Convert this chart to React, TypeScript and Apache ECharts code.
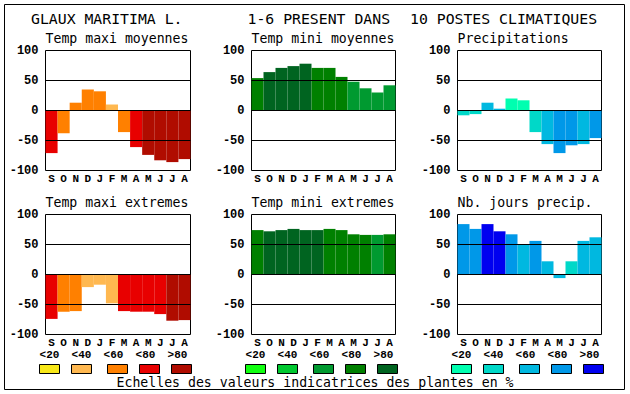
import React, { useEffect, useRef } from 'react';
import * as echarts from 'echarts';

const months = ['S', 'O', 'N', 'D', 'J', 'F', 'M', 'A', 'M', 'J', 'J', 'A'];
const legendLabels = ['<20', '<40', '<60', '<80', '>80'];
const headerParts = ['GLAUX MARITIMA L.', '1-6 PRESENT DANS', '10 POSTES CLIMATIQUES'];
const footerText = 'Echelles des valeurs indicatrices des plantes en %';
const panelTitles = [
  'Temp maxi moyennes',
  'Temp mini moyennes',
  'Precipitations',
  'Temp maxi extremes',
  'Temp mini extremes',
  'Nb. jours precip.',
];

// values (%) and class index (0:<20 .. 4:>80) per month
const tempMaxiMoyennes = [-71, -38, 13, 35, 32, 10, -36, -61, -74, -83, -86, -81];
const tempMaxiMoyennesClass = [3, 2, 2, 2, 2, 1, 2, 3, 4, 4, 4, 4];
const tempMiniMoyennes = [54, 64, 71, 74, 78, 71, 71, 56, 48, 37, 30, 42];
const tempMiniMoyennesClass = [3, 4, 4, 4, 4, 3, 3, 3, 2, 2, 2, 2];
const precipitations = [-8, -6, 13, 3, 20, 17, -36, -56, -71, -58, -56, -46];
const precipitationsClass = [1, 1, 2, 2, 0, 0, 1, 2, 3, 3, 2, 3];
const tempMaxiExtremes = [-74, -62, -61, -21, -17, -48, -61, -62, -62, -66, -77, -76];
const tempMaxiExtremesClass = [3, 2, 2, 1, 1, 1, 3, 3, 3, 3, 4, 4];
const tempMiniExtremes = [74, 72, 74, 76, 74, 74, 76, 74, 67, 66, 66, 67];
const tempMiniExtremesClass = [3, 4, 4, 4, 4, 4, 3, 3, 3, 3, 2, 3];
const nbJoursPrecip = [84, 76, 84, 72, 67, 50, 56, 22, -6, 22, 56, 62];
const nbJoursPrecipClass = [3, 3, 4, 4, 3, 2, 3, 2, 2, 1, 2, 2];

const redScale = ['#f8e818', '#ffb850', '#ff8000', '#e80000', '#b00c00'];
const greenScale = ['#10ff10', '#00c830', '#009a30', '#008000', '#006420'];
const blueScale = ['#00ffb0', '#00d8c8', '#00b8e0', '#0098e8', '#0000f0'];

const MONO = '"DejaVu Sans Mono", monospace';
const BOLD_MONO = '"Liberation Mono", "DejaVu Sans Mono", monospace';

export default function App() {
  const ref = useRef<HTMLDivElement>(null);

  useEffect(() => {
    if (!ref.current) return;
    const chart = echarts.init(ref.current, undefined, { renderer: 'svg' });

    const panels = [
      { values: tempMaxiMoyennes, classes: tempMaxiMoyennesClass, scale: redScale },
      { values: tempMiniMoyennes, classes: tempMiniMoyennesClass, scale: greenScale },
      { values: precipitations, classes: precipitationsClass, scale: blueScale },
      { values: tempMaxiExtremes, classes: tempMaxiExtremesClass, scale: redScale },
      { values: tempMiniExtremes, classes: tempMiniExtremesClass, scale: greenScale },
      { values: nbJoursPrecip, classes: nbJoursPrecipClass, scale: blueScale },
    ];
    const lefts = [45.5, 251.5, 457.5];
    const widths = [145, 144, 144];
    const tops = [50.5, 214.5];
    const plotH = 120;

    const grid = panels.map((_, i) => ({
      left: lefts[i % 3],
      top: tops[Math.floor(i / 3)],
      width: widths[i % 3],
      height: plotH,
      show: true,
      borderColor: '#000',
      borderWidth: 1,
      backgroundColor: '#fff',
      containLabel: false,
    }));

    const xAxis = panels.map((_, i) => ({
      type: 'category',
      gridIndex: i,
      data: months,
      axisLine: { show: false },
      axisTick: { show: false },
      splitLine: { show: false },
      axisLabel: {
        interval: 0,
        margin: 3,
        color: '#000',
        fontFamily: BOLD_MONO,
        fontWeight: 'bold',
        fontSize: 11,
        lineHeight: 11,
      },
    }));

    const yAxis = panels.map((_, i) => ({
      type: 'value',
      gridIndex: i,
      min: -100,
      max: 100,
      interval: 50,
      axisLine: { show: false },
      axisTick: { show: false },
      splitLine: { show: false },
      axisLabel: {
        margin: 7,
        color: '#000',
        fontFamily: BOLD_MONO,
        fontWeight: 'bold',
        fontSize: 12,
      },
    }));

    const series = panels.map((p, i) => ({
      type: 'bar',
      xAxisIndex: i,
      yAxisIndex: i,
      barCategoryGap: '0%',
      barGap: '0%',
      data: p.values.map((v, j) => ({ value: v, itemStyle: { color: p.scale[p.classes[j]] } })),
      markLine: {
        silent: true,
        symbol: ['none', 'none'],
        label: { show: false },
        lineStyle: { color: '#000', type: 'solid', width: 1 },
        emphasis: { disabled: true },
        data: [{ yAxis: 50 }, { yAxis: 0 }, { yAxis: -50 }],
      },
    }));

    const graphic: any[] = [];
    graphic.push({
      type: 'rect',
      shape: { x: 4.5, y: 4.5, width: 620, height: 385 },
      style: { fill: 'none', stroke: '#000', lineWidth: 1 },
      z: 0,
    });
    const headerX = [31, 247.5, 410];
    headerParts.forEach((t, k) => {
      graphic.push({
        type: 'text',
        x: headerX[k],
        y: 18.5,
        style: { text: t, font: `14.8px ${MONO}`, fill: '#000', textAlign: 'left', textVerticalAlign: 'middle' },
      });
    });
    const subY = [38.5, 202.5];
    panelTitles.forEach((t, i) => {
      graphic.push({
        type: 'text',
        x: lefts[i % 3],
        y: subY[Math.floor(i / 3)],
        style: { text: t, font: `13.2px ${MONO}`, fill: '#000', textAlign: 'left', textVerticalAlign: 'middle' },
      });
    });
    const boxOffsets = [0, 32, 68, 100, 132];
    const scales = [redScale, greenScale, blueScale];
    for (let c = 0; c < 3; c++) {
      const L = lefts[c];
      for (let k = 0; k < 5; k++) {
        graphic.push({
          type: 'text',
          x: L + 4 + 32 * k,
          y: 355,
          style: {
            text: legendLabels[k],
            font: `bold 11px ${BOLD_MONO}`,
            fill: '#000',
            textAlign: 'center',
            textVerticalAlign: 'middle',
          },
        });
        graphic.push({
          type: 'rect',
          shape: { x: Math.floor(L + 4 + boxOffsets[k] - 10) + 0.5, y: 364.5, width: 20, height: 9 },
          style: { fill: scales[c][k], stroke: '#000', lineWidth: 1 },
        });
      }
    }
    graphic.push({
      type: 'text',
      x: 315,
      y: 382.5,
      style: { text: footerText, font: `13.2px ${MONO}`, fill: '#000', textAlign: 'center', textVerticalAlign: 'middle' },
    });

    chart.setOption({
      animation: false,
      backgroundColor: '#fff',
      grid,
      xAxis,
      yAxis,
      series,
      graphic,
    } as any);

    return () => chart.dispose();
  }, []);

  return (
    <div
      ref={ref}
      style={{ position: 'absolute', left: 0, top: 0, width: 630, height: 394, background: '#fff' }}
    />
  );
}
